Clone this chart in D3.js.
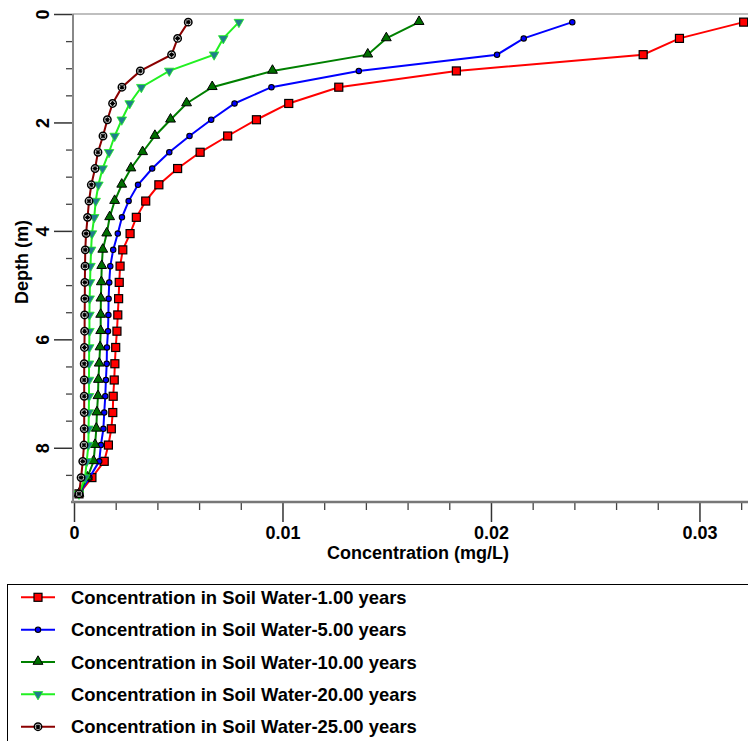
<!DOCTYPE html>
<html>
<head>
<meta charset="utf-8">
<script src="https://cdn.jsdelivr.net/npm/d3@7"></script>
<style>
  body { margin: 0; background: #fff; }
  svg { display: block; font-family: "Liberation Sans", Arial, sans-serif; font-weight: bold; }
</style>
</head>
<body>
<div id="chart"></div>
<script>
// depth of each sample point (m)
const depths = [0.15, 0.45, 0.75, 1.05, 1.35, 1.65, 1.95, 2.25, 2.55, 2.85,
                3.15, 3.45, 3.75, 4.05, 4.35, 4.65, 4.95, 5.25, 5.55, 5.85,
                6.15, 6.45, 6.75, 7.05, 7.35, 7.65, 7.95, 8.25, 8.55, 8.85];

// concentration in soil water (mg/L) for each time step
const conc1yr = [0.03212, 0.02904, 0.02730, 0.01834, 0.01270, 0.01030, 0.00875, 0.00737, 0.00605, 0.00497,
                 0.00407, 0.00344, 0.00299, 0.00269, 0.00234, 0.00221, 0.00217, 0.00214, 0.00210, 0.00206,
                 0.00200, 0.00196, 0.00193, 0.00188, 0.00186, 0.00179, 0.00165, 0.00145, 0.00086, 0.00024];
const conc5yr = [0.02390, 0.02157, 0.02029, 0.01366, 0.00947, 0.00770, 0.00658, 0.00554, 0.00457, 0.00375,
                 0.00307, 0.00262, 0.00230, 0.00210, 0.00188, 0.00174, 0.00169, 0.00166, 0.00165, 0.00163,
                 0.00158, 0.00157, 0.00153, 0.00150, 0.00145, 0.00141, 0.00129, 0.00121, 0.00074, 0.00024];
const conc10yr = [0.01655, 0.01498, 0.01409, 0.00952, 0.00663, 0.00540, 0.00463, 0.00388, 0.00329, 0.00273,
                  0.00229, 0.00195, 0.00171, 0.00157, 0.00138, 0.00133, 0.00131, 0.00129, 0.00128, 0.00128,
                  0.00125, 0.00121, 0.00117, 0.00115, 0.00110, 0.00107, 0.00101, 0.00094, 0.00064, 0.00024];
const conc20yr = [0.00791, 0.00716, 0.00672, 0.00457, 0.00323, 0.00267, 0.00229, 0.00195, 0.00168, 0.00137,
                  0.00117, 0.00104, 0.00097, 0.00086, 0.00082, 0.00079, 0.00077, 0.00075, 0.00074, 0.00074,
                  0.00073, 0.00072, 0.00072, 0.00072, 0.00071, 0.00070, 0.00069, 0.00061, 0.00053, 0.00024];
const conc25yr = [0.00548, 0.00497, 0.00468, 0.00318, 0.00230, 0.00185, 0.00160, 0.00139, 0.00115, 0.00101,
                  0.00083, 0.00072, 0.00065, 0.00058, 0.00054, 0.00053, 0.00052, 0.00052, 0.00051, 0.00051,
                  0.00050, 0.00049, 0.00049, 0.00049, 0.00049, 0.00049, 0.00048, 0.00042, 0.00034, 0.00024];

const seriesNames = [
  "Concentration in Soil Water-1.00 years",
  "Concentration in Soil Water-5.00 years",
  "Concentration in Soil Water-10.00 years",
  "Concentration in Soil Water-20.00 years",
  "Concentration in Soil Water-25.00 years"
];
const xTicks = [0, 0.01, 0.02, 0.03];
const xMinorTicks = [0.002, 0.004, 0.006, 0.008, 0.012, 0.014, 0.016, 0.018,
                     0.022, 0.024, 0.026, 0.028, 0.032];
const yTicks = [0, 2, 4, 6, 8];
const yMinorTicks = [0.5, 1, 1.5, 2.5, 3, 3.5, 4.5, 5, 5.5, 6.5, 7, 7.5, 8.5];

// styles per series
const styles = [
  { line: "#ff0000", marker: "square" },
  { line: "#0000ff", marker: "circle" },
  { line: "#008000", marker: "triangle" },
  { line: "#22f022", marker: "down" },
  { line: "#8b0000", marker: "cross" }
];
const allSeries = [conc1yr, conc5yr, conc10yr, conc20yr, conc25yr].map((vals, i) => ({
  name: seriesNames[i],
  style: styles[i],
  points: vals.map((v, j) => ({ c: v, d: depths[j] }))
}));

const width = 748, height = 741;
const plot = { left: 73, right: 749.5, top: 14, bottom: 502 };

const svg = d3.select("#chart").append("svg")
  .attr("width", width)
  .attr("height", height);

const x = d3.scaleLinear().domain([0, 0.0324]).range([plot.left + 1, plot.right]);
const y = d3.scaleLinear().domain([0, 9]).range([plot.top, plot.bottom]);

// top frame line
svg.append("line")
  .attr("x1", plot.left).attr("x2", width)
  .attr("y1", plot.top).attr("y2", plot.top)
  .attr("stroke", "#aaa").attr("stroke-width", 1.5);

// x axis (major + minor ticks)
const xAxisG = svg.append("g").attr("transform", `translate(0,${plot.bottom})`);
xAxisG.append("g")
  .call(d3.axisBottom(x).tickValues(xMinorTicks).tickSize(8).tickFormat(""))
  .call(g => g.select(".domain").remove())
  .selectAll("line").attr("stroke", "#444").attr("stroke-width", 1.3);
xAxisG.append("g")
  .call(d3.axisBottom(x).tickValues(xTicks).tickSize(20).tickPadding(4)
    .tickFormat(d => d === 0 ? "0" : d3.format(".2f")(d)))
  .call(g => g.select(".domain").remove())
  .call(g => g.selectAll("line").attr("stroke", "#333").attr("stroke-width", 1.5))
  .selectAll("text")
  .attr("fill", "#000")
  .style("font-size", "18px")
  .style("font-weight", "bold")
  .style("font-family", "'Liberation Sans', Arial, sans-serif");
xAxisG.append("line")
  .attr("x1", plot.left - 2).attr("x2", width)
  .attr("y1", 0).attr("y2", 0)
  .attr("stroke", "#777").attr("stroke-width", 2.5);

// y axis (major + minor ticks)
const yAxisG = svg.append("g").attr("transform", `translate(${plot.left},0)`);
yAxisG.append("g")
  .call(d3.axisLeft(y).tickValues(yMinorTicks).tickSize(7).tickFormat(""))
  .call(g => g.select(".domain").remove())
  .selectAll("line").attr("stroke", "#444").attr("stroke-width", 1.3);
yAxisG.append("g")
  .call(d3.axisLeft(y).tickValues(yTicks).tickSize(19))
  .call(g => g.select(".domain").remove())
  .call(g => g.selectAll("line").attr("stroke", "#333").attr("stroke-width", 1.5))
  .selectAll("text")
  .attr("x", 0).attr("dy", null)
  .attr("text-anchor", "middle")
  .attr("transform", "translate(-24,0) rotate(-90)")
  .attr("fill", "#000")
  .style("font-size", "18px")
  .style("font-weight", "bold")
  .style("font-family", "'Liberation Sans', Arial, sans-serif");
yAxisG.append("line")
  .attr("x1", 0).attr("x2", 0)
  .attr("y1", plot.top).attr("y2", plot.bottom)
  .attr("stroke", "#888").attr("stroke-width", 2);

// axis titles
svg.append("text")
  .attr("x", 418).attr("y", 559)
  .attr("text-anchor", "middle")
  .style("font-size", "18px")
  .text("Concentration (mg/L)");
svg.append("text")
  .attr("transform", "translate(28,262) rotate(-90)")
  .attr("text-anchor", "middle")
  .style("font-size", "18px")
  .text("Depth (m)");

// marker drawing
function drawMarker(g, type) {
  if (type === "square") {
    g.append("rect").attr("x", -4).attr("y", -4).attr("width", 8).attr("height", 8)
      .attr("fill", "#ff0000").attr("stroke", "#000").attr("stroke-width", 1.2);
  } else if (type === "circle") {
    g.append("circle").attr("r", 2.7)
      .attr("fill", "#0000ff").attr("stroke", "#000").attr("stroke-width", 1.1);
  } else if (type === "triangle") {
    g.append("path").attr("d", d3.symbol(d3.symbolTriangle, 42)())
      .attr("transform", "translate(0,-0.5)")
      .attr("fill", "#006f00").attr("stroke", "#000").attr("stroke-width", 1);
  } else if (type === "down") {
    g.append("path").attr("d", d3.symbol(d3.symbolTriangle, 40)())
      .attr("transform", "rotate(180)")
      .attr("fill", "#1f7d8c").attr("stroke", "#22f022").attr("stroke-width", 0.8);
  } else {
    g.append("circle").attr("r", 3.7)
      .attr("fill", "#fff").attr("stroke", "#000").attr("stroke-width", 1.5);
    g.append("path").attr("d", "M-2.5,0H2.5M0,-2.5V2.5M-1.8,-1.8L1.8,1.8M-1.8,1.8L1.8,-1.8")
      .attr("stroke", "#000").attr("stroke-width", 1.1);
  }
}

// series lines and markers
const line = d3.line().x(p => x(p.c)).y(p => y(p.d));
const seriesG = svg.append("g");
allSeries.forEach(s => {
  const g = seriesG.append("g");
  g.append("path")
    .datum(s.points)
    .attr("d", line)
    .attr("fill", "none")
    .attr("stroke", s.style.line)
    .attr("stroke-width", 2);
  g.selectAll("g.mk")
    .data(s.points)
    .join("g")
    .attr("class", "mk")
    .attr("transform", p => `translate(${x(p.c)},${y(p.d)})`)
    .each(function() { drawMarker(d3.select(this), s.style.marker); });
});

// legend
const legend = svg.append("g");
legend.append("rect")
  .attr("x", 7.5).attr("y", 584.5)
  .attr("width", 760).attr("height", 200)
  .attr("fill", "none").attr("stroke", "#000").attr("stroke-width", 1);
allSeries.forEach((s, i) => {
  const cy = 597.3 + i * 32.35;
  const row = legend.append("g").attr("transform", `translate(0,${cy})`);
  row.append("line")
    .attr("x1", 21).attr("x2", 55)
    .attr("stroke", s.style.line).attr("stroke-width", 2);
  drawMarker(row.append("g").attr("transform", "translate(38,0)"), s.style.marker);
  row.append("text")
    .attr("x", 71).attr("dy", "0.36em")
    .style("font-size", "18.4px")
    .text(s.name);
});
</script>
</body>
</html>
